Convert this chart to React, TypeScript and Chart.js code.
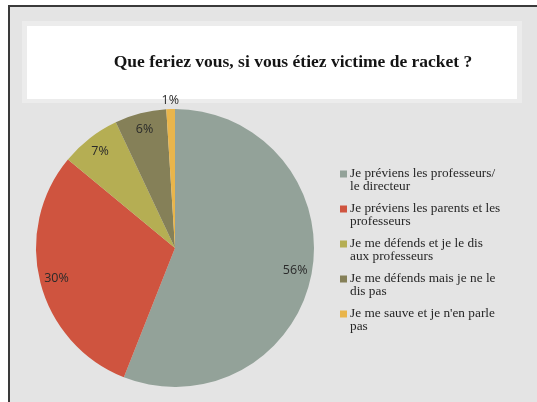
import React, { useEffect, useRef } from "react";
import { Chart, registerables } from "chart.js";

Chart.register(...registerables);

const titleText = "Que feriez vous, si vous étiez victime de racket ?";
const categories: string[][] = [
  ["Je préviens les professeurs/", "le directeur"],
  ["Je préviens les parents et les", "professeurs"],
  ["Je me défends et je le dis", "aux professeurs"],
  ["Je me défends mais je ne le", "dis pas"],
  ["Je me sauve et je n'en parle", "pas"],
];
const values: number[] = [56, 30, 7, 6, 1];
const colors: string[] = ["#93a299", "#cf543f", "#b5ae53", "#858058", "#e9b54b"];

const framePlugin = {
  id: "frame",
  beforeDraw(chart: any) {
    const ctx = chart.ctx;
    const W = chart.width;
    const H = chart.height;
    ctx.save();
    ctx.fillStyle = "#ffffff";
    ctx.fillRect(0, 0, W, H);
    ctx.fillStyle = "#e4e4e4";
    ctx.fillRect(8, 5, W - 8, H - 5);
    ctx.fillStyle = "#3a3a3a";
    ctx.fillRect(8, 5, 2, H - 5);
    ctx.fillRect(8, 5, W - 8, 2);
    ctx.fillStyle = "#ececec";
    ctx.fillRect(22, 21, 500, 82);
    ctx.fillStyle = "#ffffff";
    ctx.fillRect(27, 26, 490, 73);
    ctx.fillStyle = "#141414";
    ctx.font = "bold 17.5px 'Liberation Serif'";
    ctx.textAlign = "center";
    ctx.textBaseline = "alphabetic";
    ctx.fillText(titleText, 293, 67);
    ctx.restore();
  },
};

const labelsPlugin = {
  id: "sliceLabels",
  afterDatasetsDraw(chart: any) {
    const ctx = chart.ctx;
    const meta = chart.getDatasetMeta(0);
    ctx.save();
    ctx.font = "12.5px 'Open Sans'";
    ctx.fillStyle = "#2a2a2a";
    ctx.textAlign = "center";
    ctx.textBaseline = "middle";
    meta.data.forEach((arc: any, i: number) => {
      const p = arc.getProps(["x", "y", "startAngle", "endAngle", "outerRadius"], true);
      const mid = (p.startAngle + p.endAngle) / 2;
      const f = values[i] < 3 ? 1.065 : 0.88;
      const x = p.x + Math.cos(mid) * p.outerRadius * f;
      const y = p.y + Math.sin(mid) * p.outerRadius * f;
      ctx.fillText(values[i] + "%", x, y);
    });
    ctx.restore();
  },
};

const legendPlugin = {
  id: "sideLegend",
  afterDraw(chart: any) {
    const ctx = chart.ctx;
    ctx.save();
    ctx.font = "13.3px 'Liberation Serif'";
    ctx.textAlign = "left";
    ctx.textBaseline = "middle";
    const x0 = 340;
    const y0 = 174;
    const step = 35;
    const lh = 12.5;
    categories.forEach((lines, i) => {
      const y = y0 + i * step;
      ctx.fillStyle = colors[i];
      ctx.fillRect(x0, y - 3.5, 7, 7);
      ctx.fillStyle = "#262626";
      lines.forEach((t, j) => ctx.fillText(t, x0 + 10, y + j * lh));
    });
    ctx.restore();
  },
};

export default function App() {
  const ref = useRef<HTMLCanvasElement | null>(null);
  useEffect(() => {
    if (!ref.current) return;
    const chart = new Chart(ref.current, {
      type: "pie",
      data: {
        labels: categories.map((c) => c.join(" ")),
        datasets: [
          {
            data: values,
            backgroundColor: colors,
            borderWidth: 0,
          },
        ],
      },
      options: {
        animation: false,
        responsive: false,
        layout: { padding: { left: 36, right: 223, top: 109, bottom: 15 } },
        plugins: {
          legend: { display: false },
          title: { display: false },
          tooltip: { enabled: false },
        },
      },
      plugins: [framePlugin, labelsPlugin, legendPlugin],
    });
    return () => chart.destroy();
  }, []);
  return (
    <div style={{ position: "fixed", left: 0, top: 0, width: 537, height: 402 }}>
      <canvas ref={ref} width={537} height={402} style={{ width: 537, height: 402 }} />
    </div>
  );
}
